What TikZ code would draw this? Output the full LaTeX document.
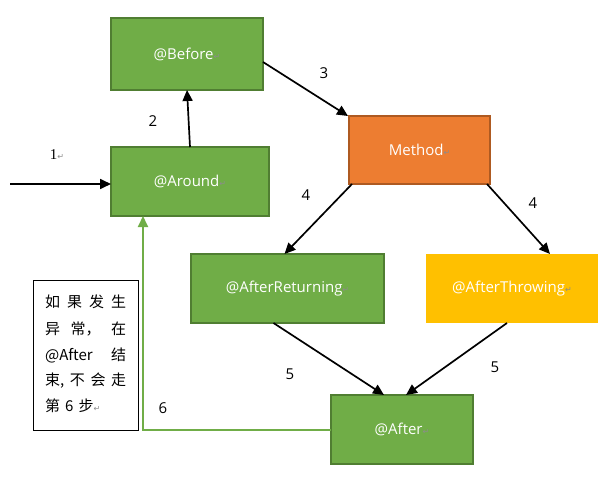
\documentclass[tikz,border=0pt]{standalone}
\usepackage{fontspec}
\setmainfont{Open Sans}
\newfontfamily\cjk{Noto Sans CJK SC}
\newfontfamily\symf{DejaVu Sans}
\newfontfamily\serf{Liberation Serif}
\usetikzlibrary{arrows.meta}
\definecolor{gfill}{HTML}{70AD47}
\definecolor{gdraw}{HTML}{507E32}
\definecolor{ofill}{HTML}{ED7D31}
\definecolor{odraw}{HTML}{AE5A21}
\definecolor{yfill}{HTML}{FFC000}
\definecolor{pmark}{HTML}{8C8C8C}
\newcommand{\retmark}{{\symf\fontsize{8}{8}\selectfont\textcolor{pmark}{↵}}}
\begin{document}
\begin{tikzpicture}[x=1pt,y=-1pt,
  box/.style={rectangle, inner sep=0pt, outer sep=0pt, line width=2pt, text=white,
    font=\fontsize{15}{17}\selectfont},
  gbox/.style={box, fill=gfill, draw=gdraw},
  obox/.style={box, fill=ofill, draw=odraw},
  ybox/.style={box, fill=yfill},
  arr/.style={line width=1.7pt, -{Triangle[length=11pt,width=10pt]}},
  garr/.style={line width=2pt, draw=gfill, -{Triangle[length=11pt,width=10pt,fill=gfill]}},
  lbl/.style={font=\fontsize{15}{17}\selectfont, inner sep=0pt},
  nline/.style={font=\cjk\fontsize{15}{17}\selectfont, inner sep=0pt, anchor=west, text width=81pt}
]
\useasboundingbox (0,0) rectangle (616,487);

\node[gbox, minimum width=152pt, minimum height=72pt] (before) at (187,54) {@Before\retmark};
\node[gbox, minimum width=158pt, minimum height=69pt] (around) at (190,181.5) {@Around\retmark};
\node[obox, minimum width=141pt, minimum height=68pt] (method) at (419.5,150) {Method\retmark};
\node[gbox, minimum width=193pt, minimum height=69pt] (ret) at (287.5,288.5) {@AfterReturning\retmark};
\node[ybox, minimum width=172pt, minimum height=69pt] (thr) at (512,288.5) {@AfterThrowing\retmark};
\node[gbox, minimum width=142pt, minimum height=69pt] (after) at (402,429.5) {@After\retmark};

\node[draw=black, line width=0.8pt, minimum width=105pt, minimum height=150pt, inner sep=0pt] (note) at (85.5,355) {};
\node[nline] (n1) at (45,302) {如\hfill 果\hfill 发\hfill 生};
\node[nline] (n2) at (45,329) {异\hfill 常，\hfill 在};
\node[nline] (n3) at (45,355) {@After\hfill 结};
\node[nline] (n4) at (45,381) {束,\hfill 不\hfill 会\hfill 走};
\node[nline] (n5) at (45,406) {第 6 步\retmark};

\coordinate (start) at (10,184);
\draw[arr] (start) -- (start -| around.west);
\draw[arr] (around.north) -- (before.south);
\draw[arr] ([yshift=-8pt]before.east) -- ([xshift=-1pt]method.north west);
\draw[arr] ([xshift=3pt]method.south west) -- ([xshift=-3pt]ret.north);
\draw[arr] ([xshift=-3pt]method.south east) -- ([xshift=38pt]thr.north);
\draw[arr] ([xshift=-14pt]ret.south) -- ([xshift=-18pt]after.north);
\draw[arr] ([xshift=-5pt]thr.south) -- ([xshift=4pt]after.north);
\draw[garr] (after.west) -| ([xshift=-47pt]around.south);

\node[lbl] (l1) at (57,155) {{\serf 1}\retmark};
\node[lbl] (l2) at (153,121) {2};
\node[lbl] (l3) at (324,73) {3};
\node[lbl] (l4a) at (306,195) {4};
\node[lbl] (l4b) at (533,203) {4};
\node[lbl] (l5a) at (290,374) {5};
\node[lbl] (l5b) at (495,367) {5};
\node[lbl] (l6) at (163,408) {6};
\end{tikzpicture}
\end{document}
